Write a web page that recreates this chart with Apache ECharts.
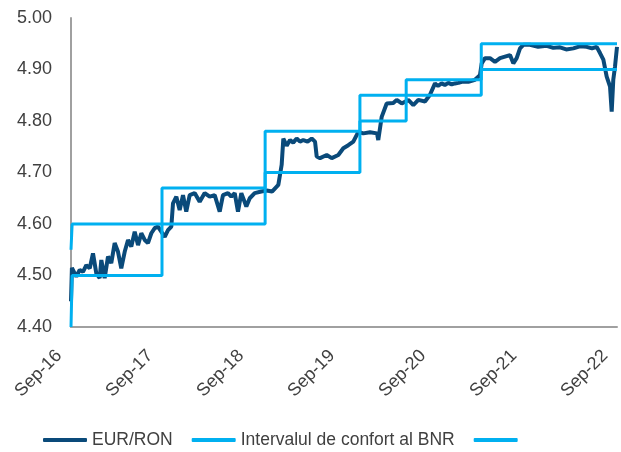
<!DOCTYPE html>
<html>
<head>
<meta charset="utf-8">
<script src="https://cdn.jsdelivr.net/npm/echarts@6/dist/echarts.min.js"></script>
<style>
html,body{margin:0;padding:0;background:#fff;}
#chart{width:621px;height:452px;}
</style>
</head>
<body>
<div id="chart"></div>
<script>
// x positions are months elapsed since Sep-16
const tickLabels = ['Sep-16','Sep-17','Sep-18','Sep-19','Sep-20','Sep-21','Sep-22'];

const rateMonths = [0, 0.12, 0.26, 0.70, 1.15, 1.58, 2.02, 2.47, 2.90, 3.34, 3.78, 4.00, 4.44, 4.88, 5.31, 5.76, 6.20, 6.63, 7.08, 7.52, 7.95, 8.40, 8.84, 9.27, 9.72, 10.15, 10.59, 11.04, 11.47, 12.36, 12.79, 13.23, 13.45, 13.89, 14.33, 14.77, 15.20, 15.65, 16.31, 16.97, 17.63, 18.29, 18.95, 19.61, 20.04, 20.70, 21.14, 21.59, 22.02, 22.46, 23.12, 23.57, 24.22, 25.09, 25.81, 26.51, 27.34, 27.78, 28.00, 28.44, 28.88, 29.30, 29.76, 30.20, 30.63, 31.20, 31.74, 32.18, 32.40, 32.84, 33.72, 34.38, 35.25, 35.91, 36.57, 37.23, 37.89, 38.54, 39.43, 40.35, 40.52, 40.97, 41.63, 42.50, 42.95, 43.61, 44.48, 45.14, 45.80, 46.68, 47.34, 48.00, 48.40, 48.88, 49.30, 49.75, 50.20, 50.64, 51.10, 51.52, 52.39, 53.27, 53.93, 54.16, 54.59, 55.25, 55.91, 56.57, 57.23, 57.89, 58.33, 58.77, 59.21, 59.65, 60.53, 61.60, 62.73, 63.60, 64.48, 65.30, 66.24, 67.10, 68.00, 68.70, 69.32, 69.76, 70.20, 70.64, 71.08, 71.30, 71.51, 71.74, 72.0];
const rateValues = [4.45, 4.515, 4.514, 4.498, 4.511, 4.507, 4.52, 4.514, 4.543, 4.504, 4.495, 4.53, 4.495, 4.537, 4.524, 4.563, 4.546, 4.514, 4.546, 4.569, 4.556, 4.585, 4.559, 4.582, 4.569, 4.563, 4.582, 4.592, 4.595, 4.575, 4.588, 4.595, 4.64, 4.653, 4.627, 4.656, 4.624, 4.656, 4.66, 4.643, 4.66, 4.653, 4.656, 4.624, 4.656, 4.66, 4.653, 4.66, 4.624, 4.66, 4.634, 4.65, 4.66, 4.663, 4.665, 4.663, 4.676, 4.715, 4.766, 4.752, 4.763, 4.758, 4.766, 4.760, 4.763, 4.760, 4.766, 4.76, 4.731, 4.728, 4.734, 4.728, 4.734, 4.747, 4.753, 4.76, 4.779, 4.776, 4.778, 4.776, 4.763, 4.808, 4.834, 4.835, 4.841, 4.834, 4.841, 4.831, 4.841, 4.838, 4.851, 4.873, 4.868, 4.873, 4.870, 4.874, 4.871, 4.873, 4.874, 4.876, 4.876, 4.88, 4.889, 4.912, 4.922, 4.922, 4.915, 4.922, 4.925, 4.928, 4.912, 4.922, 4.941, 4.948, 4.948, 4.944, 4.946, 4.942, 4.943, 4.939, 4.941, 4.945, 4.944, 4.941, 4.944, 4.932, 4.919, 4.886, 4.867, 4.818, 4.88, 4.906, 4.944];

const bandBreaks = [0, 0.15, 12, 25.6, 38.1, 44.2, 54.1, 72];
const bandUpper = [4.55, 4.60, 4.67, 4.78, 4.85, 4.88, 4.95];
const bandLower = [4.40, 4.50, 4.60, 4.70, 4.80, 4.85, 4.90];

const seriesNames = ['EUR/RON', 'Intervalul de confort al BNR', ' '];

function stepPoints(levels) {
  const pts = [];
  for (let i = 0; i < levels.length; i++) {
    pts.push([bandBreaks[i], levels[i]]);
    pts.push([bandBreaks[i + 1], levels[i]]);
  }
  return pts;
}

const rateData = rateMonths.map((m, i) => [m, rateValues[i]]);
const FONT = 'Liberation Sans, Arial, sans-serif';
const TXT = '#404040';
const DARK = '#0A4A7A';
const LIGHT = '#00B0F0';

const chart = echarts.init(document.getElementById('chart'), null, {renderer: 'canvas'});
chart.setOption({
  animation: false,
  backgroundColor: '#fff',
  grid: {left: 71, right: 4, top: 18, bottom: 125, containLabel: false},
  legend: {
    left: 38, top: 426,
    itemWidth: 44, itemHeight: 4, itemGap: 19,
    icon: 'roundRect',
    textStyle: {fontFamily: FONT, fontSize: 17.5, color: TXT},
    data: seriesNames
  },
  xAxis: {
    type: 'value', min: 0, max: 72, interval: 12,
    axisLine: {show: true, lineStyle: {color: '#A0A0A0', width: 2}},
    axisTick: {show: false},
    splitLine: {show: false},
    axisLabel: {
      rotate: 45, margin: 14, padding: [0, 17, 0, 0],
      fontFamily: FONT, fontSize: 18, color: TXT,
      formatter: v => tickLabels[Math.round(v / 12)]
    }
  },
  yAxis: {
    type: 'value', min: 4.4, max: 5.0, interval: 0.1,
    axisLine: {show: true, lineStyle: {color: '#A0A0A0', width: 2}},
    axisTick: {show: false},
    splitLine: {show: false},
    axisLabel: {
      margin: 19, fontFamily: FONT, fontSize: 18, color: TXT,
      formatter: v => v.toFixed(2)
    }
  },
  series: [
    {name: seriesNames[0], type: 'line', data: rateData, showSymbol: false, symbol: 'none',
     lineStyle: {color: DARK, width: 4}, itemStyle: {color: DARK}},
    {name: seriesNames[1], type: 'line', data: stepPoints(bandUpper), showSymbol: false, symbol: 'none',
     lineStyle: {color: LIGHT, width: 3}, itemStyle: {color: LIGHT}},
    {name: seriesNames[2], type: 'line', data: stepPoints(bandLower), showSymbol: false, symbol: 'none',
     lineStyle: {color: LIGHT, width: 3}, itemStyle: {color: LIGHT}}
  ]
});
</script>
</body>
</html>
